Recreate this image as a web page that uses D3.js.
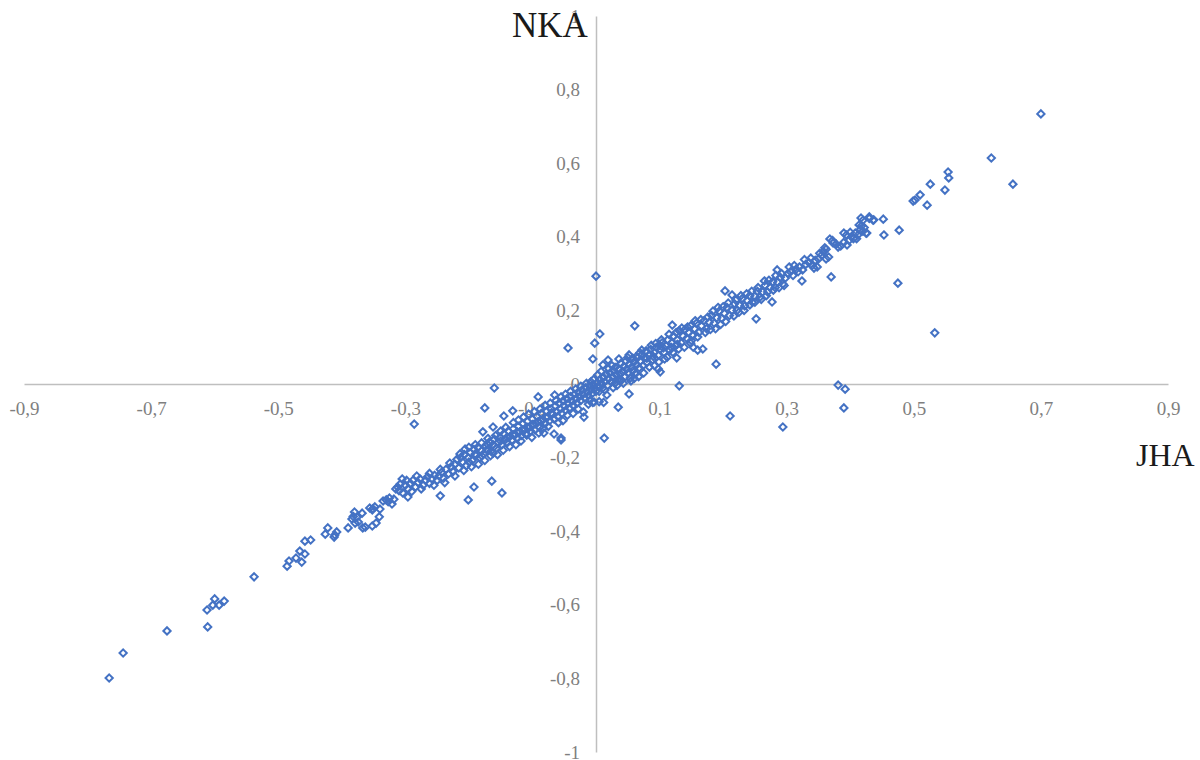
<!DOCTYPE html>
<html>
<head>
<meta charset="utf-8">
<script src="https://cdn.jsdelivr.net/npm/d3@7"></script>
<style>
  html, body { margin: 0; background: #fff; }
  text { font-family: "Liberation Serif", serif; }
</style>
</head>
<body>
<div id="main"></div>
<script>
const width = 1200;
const height = 760;

const xTicks = [-0.9, -0.7, -0.5, -0.3, -0.1, 0.1, 0.3, 0.5, 0.7, 0.9];
const yTicks = [-1, -0.8, -0.6, -0.4, -0.2, 0, 0.2, 0.4, 0.6, 0.8, 1];

// [JHA, NKA]
const lowerTail = [
  [-0.766,-0.799],[-0.744,-0.731],[-0.675,-0.671],[-0.611,-0.66],[-0.612,-0.614],[-0.603,-0.601],
  [-0.6,-0.584],[-0.593,-0.601],[-0.585,-0.59],[-0.538,-0.524],[-0.486,-0.495],[-0.483,-0.481],
  [-0.472,-0.473],[-0.466,-0.454],[-0.463,-0.484],[-0.458,-0.462],[-0.458,-0.427],[-0.449,-0.424],
  [-0.426,-0.408],[-0.422,-0.391],[-0.412,-0.416],[-0.411,-0.41],[-0.408,-0.402],[-0.39,-0.391],
  [-0.384,-0.367],[-0.38,-0.348],[-0.379,-0.378],[-0.374,-0.375],[-0.368,-0.351],[-0.367,-0.391],
  [-0.363,-0.389],[-0.352,-0.386],[-0.346,-0.378],[-0.341,-0.361],[-0.352,-0.342],[-0.356,-0.337],
  [-0.351,-0.339],[-0.348,-0.334],[-0.34,-0.34],[-0.335,-0.318],[-0.33,-0.315],[-0.327,-0.32],
  [-0.321,-0.326],[-0.318,-0.313],[-0.315,-0.285],[-0.312,-0.28],[-0.305,-0.258],[-0.304,-0.296],
  [-0.296,-0.307],[-0.308,-0.272],[-0.382,-0.36],[-0.376,-0.362],[-0.325,-0.31],[-0.31,-0.29]
];

const lowerBand = [
  [-0.3,-0.275],[-0.296,-0.285],[-0.292,-0.27],[-0.288,-0.262],[-0.284,-0.28],[-0.28,-0.268],
  [-0.277,-0.258],[-0.272,-0.275],[-0.268,-0.262],[-0.265,-0.252],[-0.262,-0.27],[-0.258,-0.258],
  [-0.254,-0.248],[-0.25,-0.262],[-0.247,-0.25],[-0.243,-0.24],[-0.24,-0.256],[-0.236,-0.232],
  [-0.232,-0.244],[-0.228,-0.225],[-0.225,-0.238],[-0.222,-0.218],[-0.219,-0.205],[-0.216,-0.228],
  [-0.213,-0.2],[-0.21,-0.212],[-0.207,-0.192],[-0.204,-0.222],[-0.201,-0.2],[-0.198,-0.186],
  [-0.195,-0.208],[-0.192,-0.178],[-0.189,-0.195],[-0.186,-0.172],[-0.183,-0.2],[-0.18,-0.182],
  [-0.177,-0.19],[-0.174,-0.168],[-0.171,-0.178],[-0.168,-0.158],[-0.165,-0.182],[-0.162,-0.165],
  [-0.16,-0.15],[-0.157,-0.175],[-0.154,-0.158],[-0.151,-0.145],[-0.148,-0.165],[-0.145,-0.135],
  [-0.143,-0.152],[-0.14,-0.16],[-0.138,-0.128],[-0.135,-0.142],[-0.132,-0.152],[-0.13,-0.122],
  [-0.127,-0.138],[-0.124,-0.148],[-0.122,-0.115],[-0.12,-0.13],[-0.117,-0.14],[-0.115,-0.108],
  [-0.112,-0.122],[-0.11,-0.135],[-0.108,-0.102],[-0.105,-0.118],[-0.103,-0.128],[-0.1,-0.095],
  [-0.098,-0.11],[-0.096,-0.125],[-0.093,-0.088],[-0.091,-0.102],[-0.089,-0.118],[-0.086,-0.08],
  [-0.084,-0.096],[-0.082,-0.133],[-0.08,-0.108],[-0.078,-0.074],[-0.076,-0.09],[-0.073,-0.1],
  [-0.071,-0.068],[-0.069,-0.083],[-0.066,-0.095],[-0.064,-0.06],[-0.062,-0.075],[-0.06,-0.088],
  [-0.058,-0.052],[-0.056,-0.068],[-0.054,-0.08],[-0.052,-0.046],[-0.05,-0.06],[-0.048,-0.072],
  [-0.046,-0.04],[-0.044,-0.053],[-0.042,-0.066],[-0.04,-0.034],[-0.038,-0.047],[-0.036,-0.058],
  [-0.034,-0.028],[-0.032,-0.04],[-0.03,-0.052],[-0.028,-0.022],[-0.026,-0.034],[-0.024,-0.045],
  [-0.022,-0.016],[-0.02,-0.028],[-0.018,-0.038],[-0.016,-0.01],[-0.014,-0.022],[-0.012,-0.032],
  [-0.01,-0.005],[-0.008,-0.016],[-0.006,-0.026],[-0.004,-0.002],[-0.002,-0.012],[0,-0.02]
];

const lowerSpread = [
  [-0.298,-0.262],[-0.29,-0.292],[-0.282,-0.25],[-0.275,-0.285],[-0.262,-0.243],[-0.255,-0.275],
  [-0.245,-0.232],[-0.238,-0.268],[-0.23,-0.215],[-0.222,-0.25],[-0.214,-0.19],[-0.208,-0.235],
  [-0.206,-0.177],[-0.2,-0.172],[-0.196,-0.225],[-0.19,-0.165],[-0.185,-0.218],[-0.18,-0.16],
  [-0.175,-0.208],[-0.17,-0.148],[-0.166,-0.195],[-0.162,-0.117],[-0.162,-0.188],[-0.158,-0.14],
  [-0.155,-0.192],[-0.15,-0.128],[-0.145,-0.087],[-0.146,-0.18],[-0.142,-0.118],[-0.136,-0.17],
  [-0.131,-0.073],[-0.13,-0.105],[-0.126,-0.165],[-0.122,-0.098],[-0.118,-0.155],[-0.114,-0.09],
  [-0.109,-0.139],[-0.106,-0.082],[-0.101,-0.145],[-0.097,-0.075],[-0.091,-0.035],[-0.09,-0.133],
  [-0.088,-0.068],[-0.083,-0.12],[-0.08,-0.058],[-0.075,-0.115],[-0.072,-0.052],[-0.066,-0.136],
  [-0.065,-0.03],[-0.063,-0.045],[-0.059,-0.105],[-0.055,-0.035],[-0.052,-0.1],[-0.048,-0.028],
  [-0.045,-0.085],[-0.04,-0.02],[-0.036,-0.08],[-0.032,-0.014],[-0.028,-0.068],[-0.024,-0.006],
  [-0.02,-0.076],[-0.019,-0.09],[-0.015,0.002],[-0.012,-0.055],[-0.008,0.006],[-0.003,-0.049],
  [-0.004,0.012],[-0.01,-0.045],[-0.07,-0.078],[-0.078,-0.092],[-0.086,-0.102],[-0.094,-0.108],
  [-0.1,-0.11],[-0.108,-0.118],[-0.116,-0.125],[-0.124,-0.13],[-0.13,-0.138],[-0.14,-0.145],
  [-0.15,-0.155],[-0.16,-0.17],[-0.17,-0.165],[-0.18,-0.195],[-0.19,-0.19],[-0.2,-0.212]
];

const upperBand = [
  [0.002,0.004],[0.004,-0.008],[0.006,0.012],[0.008,0.002],[0.01,-0.012],[0.012,0.018],
  [0.014,0.006],[0.016,0.026],[0.018,-0.004],[0.02,0.014],[0.022,0.03],[0.024,0.006],
  [0.026,0.02],[0.028,0.036],[0.03,0.002],[0.032,0.024],[0.034,0.012],[0.036,0.04],
  [0.038,0.028],[0.04,0.01],[0.042,0.034],[0.044,0.048],[0.046,0.02],[0.048,0.04],
  [0.05,0.03],[0.052,0.054],[0.054,0.016],[0.056,0.046],[0.058,0.036],[0.06,0.06],
  [0.062,0.028],[0.064,0.052],[0.066,0.072],[0.068,0.044],[0.07,0.062],[0.072,0.08],
  [0.074,0.05],[0.076,0.07],[0.078,0.088],[0.08,0.058],[0.083,0.078],[0.086,0.094],
  [0.089,0.066],[0.092,0.086],[0.095,0.1],[0.098,0.078],[0.101,0.094],[0.104,0.112],
  [0.107,0.086],[0.11,0.104],[0.113,0.12],[0.116,0.092],[0.119,0.112],[0.122,0.13],
  [0.125,0.104],[0.128,0.12],[0.131,0.145],[0.134,0.112],[0.137,0.13],[0.14,0.148],
  [0.143,0.124],[0.146,0.14],[0.149,0.158],[0.152,0.132],[0.155,0.15],[0.158,0.165],
  [0.162,0.14],[0.166,0.158],[0.17,0.172],[0.174,0.15],[0.178,0.168],[0.182,0.186],
  [0.186,0.165],[0.19,0.18],[0.194,0.198],[0.198,0.178],[0.202,0.192],[0.206,0.208],
  [0.21,0.186],[0.214,0.2],[0.218,0.218],[0.222,0.2],[0.226,0.214],[0.23,0.232],
  [0.234,0.212],[0.238,0.226],[0.242,0.24],[0.246,0.222],[0.25,0.238],[0.254,0.252],
  [0.258,0.236],[0.262,0.25],[0.266,0.268],[0.27,0.25],[0.274,0.262],[0.278,0.278],
  [0.282,0.262],[0.286,0.276],[0.29,0.29],[0.294,0.272],[0.298,0.288],[0.302,0.3],
  [0.306,0.305],[0.31,0.295],[0.315,0.312],[0.32,0.318],[0.325,0.31],[0.33,0.325],
  [0.335,0.33],[0.34,0.322],[0.345,0.336],[0.35,0.34],[0.355,0.35],[0.358,0.36],
  [0.36,0.37],[0.362,0.366],[0.366,0.345],[0.372,0.39],[0.378,0.38],[0.385,0.375],
  [0.39,0.385],[0.394,0.405],[0.398,0.39],[0.402,0.4],[0.405,0.395],[0.408,0.41],
  [0.412,0.405],[0.416,0.42],[0.418,0.43],[0.42,0.415],[0.42,0.445],[0.425,0.41],
  [0.43,0.45],[0.436,0.445]
];

const upperSpread = [
  [0.003,0.025],[0.005,-0.02],[0.008,0.034],[0.011,0.052],[0.014,-0.016],[0.017,-0.03],
  [0.019,0.065],[0.02,0.042],[0.025,0.05],[0.027,-0.01],[0.03,0.045],[0.033,-0.004],
  [0.036,0.068],[0.039,0.056],[0.043,0.002],[0.047,0.062],[0.05,0.072],[0.052,0.079],
  [0.055,0.008],[0.058,0.07],[0.063,0.074],[0.067,0.02],[0.069,0.085],[0.072,0.092],
  [0.075,0.03],[0.079,0.09],[0.084,0.046],[0.087,0.105],[0.092,0.05],[0.094,0.11],
  [0.099,0.06],[0.103,0.12],[0.108,0.068],[0.112,0.073],[0.115,0.135],[0.12,0.16],
  [0.121,0.086],[0.126,0.14],[0.13,0.095],[0.135,0.152],[0.139,0.1],[0.144,0.155],
  [0.149,0.111],[0.15,0.118],[0.156,0.172],[0.16,0.128],[0.165,0.175],[0.172,0.14],
  [0.176,0.182],[0.18,0.148],[0.184,0.198],[0.188,0.15],[0.192,0.208],[0.196,0.162],
  [0.2,0.21],[0.204,0.17],[0.208,0.22],[0.214,0.242],[0.217,0.185],[0.22,0.228],
  [0.225,0.195],[0.228,0.24],[0.233,0.2],[0.237,0.245],[0.242,0.215],[0.245,0.252],
  [0.25,0.222],[0.255,0.262],[0.26,0.23],[0.265,0.28],[0.268,0.24],[0.272,0.282],
  [0.279,0.255],[0.283,0.295],[0.285,0.31],[0.288,0.262],[0.292,0.3],[0.296,0.268],
  [0.304,0.318],[0.312,0.322],[0.318,0.305],[0.328,0.338],[0.338,0.342],[0.343,0.315],
  [0.348,0.318],[0.352,0.355],[0.362,0.34],[0.368,0.394],[0.373,0.383],[0.381,0.372],
  [0.39,0.41],[0.395,0.378],[0.4,0.412],[0.41,0.395],[0.414,0.432],[0.417,0.451],
  [0.422,0.425],[0.426,0.41],[0.43,0.454],[0.437,0.446],[0.038,0.01],[0.06,0.015],
  [0.08,0.07],[0.09,0.075],[0.1,0.105],[0.106,0.098],[0.118,0.1],[0.128,0.108]
];

const outliers = [
  [0.7,0.734],[0.622,0.614],[0.656,0.543],[0.554,0.576],[0.555,0.56],[0.549,0.527],[0.526,0.543],
  [0.521,0.486],[0.51,0.514],[0.499,0.497],[0.502,0.5],[0.452,0.448],[0.453,0.405],[0.477,0.418],
  [0.475,0.274],[0.533,0.139],[0.381,-0.003],[0.392,-0.014],[0.39,-0.065],[0.294,-0.117],
  [0.211,-0.087],[0.013,-0.147],[0.131,-0.005],[0,0.293],[0.006,0.136],[-0.002,0.111],
  [-0.005,0.068],[-0.044,0.098],[0.061,0.158],[-0.16,-0.011],[-0.175,-0.065],[-0.286,-0.109],
  [0.189,0.054],[-0.245,-0.304],[-0.201,-0.315],[-0.192,-0.28],[-0.164,-0.264],[-0.148,-0.296],
  [0.37,0.291],[0.252,0.177],[0.277,0.223],[0.203,0.253],[0.324,0.28],[0.168,0.095],[0.16,0.092],
  [0.153,0.1],[0.101,0.033],[0.098,0.041],[0.127,0.071],[0.035,-0.063],[0.052,-0.027],
  [-0.055,-0.152],[-0.055,-0.147],[-0.178,-0.13],[-0.005,-0.05],[0.005,-0.048],[0.012,-0.05]
];

const points = [...lowerTail, ...lowerBand, ...lowerSpread, ...upperBand, ...upperSpread, ...outliers];

const fmt = (d) => String(d).replace(".", ",");

const xScale = d3.scaleLinear().domain([-0.9, 0.9]).range([24, 1168]);
const yScale = d3.scaleLinear().domain([-1, 1]).range([752, 16]);

const svg = d3.select("#main").append("svg").attr("width", width).attr("height", height)
  .style("display", "block");

const xAxis = svg.append("g")
  .attr("transform", `translate(0, ${yScale(0)})`)
  .call(d3.axisBottom(xScale).tickValues(xTicks).tickFormat(fmt).tickSize(0).tickSizeOuter(0).tickPadding(18));

const yAxis = svg.append("g")
  .attr("transform", `translate(${xScale(0)}, 0)`)
  .call(d3.axisLeft(yScale).tickValues(yTicks).tickFormat(fmt).tickSize(0).tickSizeOuter(0).tickPadding(16));

[xAxis, yAxis].forEach((axis) => {
  axis.select(".domain").attr("stroke", "#bfbfbf").attr("stroke-width", 1.5);
  axis.selectAll("text")
    .attr("fill", "#7f7f7f")
    .style("font-family", '"Liberation Serif", serif')
    .style("font-size", "19px");
});

const diamond = d3.symbol().type(d3.symbolDiamond2).size(34);

svg.append("g")
  .selectAll("path")
  .data(points)
  .enter()
  .append("path")
  .attr("d", diamond)
  .attr("transform", (d) => `translate(${xScale(d[0])}, ${yScale(d[1])})`)
  .attr("fill", "none")
  .attr("stroke", "#4472c4")
  .attr("stroke-width", 2);

svg.append("text").attr("x", 512).attr("y", 37).text("NKA")
  .style("font-size", "35px").attr("fill", "#1a1a1a");

svg.append("text").attr("x", 1136).attr("y", 466).text("JHA")
  .style("font-size", "32px").attr("fill", "#1a1a1a");
</script>
</body>
</html>
